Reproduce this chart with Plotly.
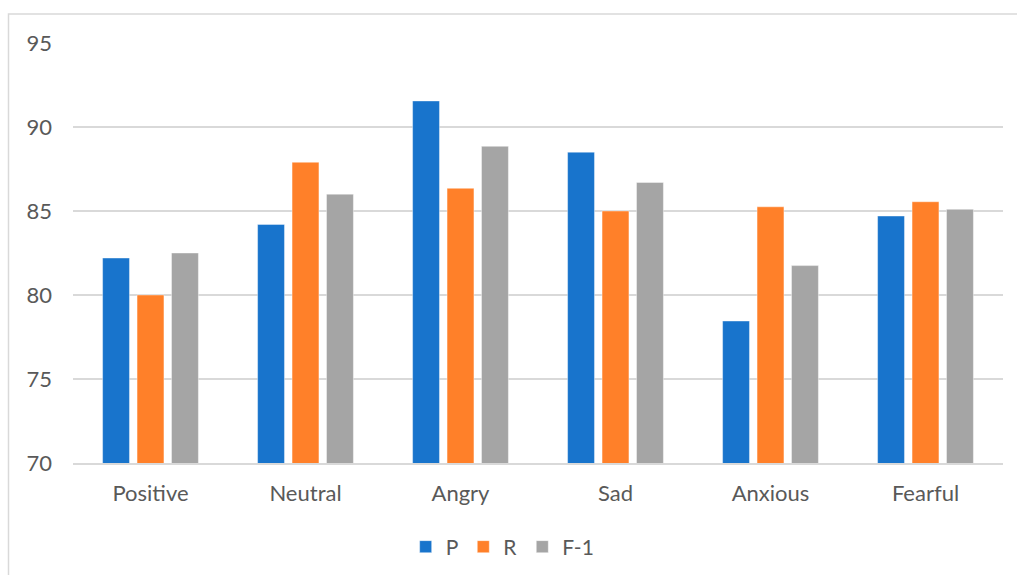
import plotly.graph_objects as go

categories = ["Positive", "Neutral", "Angry", "Sad", "Anxious", "Fearful"]
p_values = [82.2, 84.2, 91.55, 88.5, 78.45, 84.7]
r_values = [80.0, 87.9, 86.35, 85.0, 85.25, 85.55]
f1_values = [82.5, 86.0, 88.85, 86.7, 81.75, 85.1]
series_names = ["P", "R", "F-1"]
colors = ["#1874CC", "#FF8029", "#A5A5A5"]

FONT = "Lato, 'Open Sans', sans-serif"
TXT = "#595959"

fig = go.Figure()
for name, vals, col in zip(series_names, [p_values, r_values, f1_values], colors):
    fig.add_trace(go.Bar(
        x=categories, y=vals, name=name,
        marker=dict(color=col, line=dict(color="rgba(255,255,255,0.4)", width=1)),
    ))

fig.update_layout(
    width=1017, height=575,
    margin=dict(l=73, r=14, t=43, b=112, autoexpand=False),
    paper_bgcolor="white", plot_bgcolor="white",
    barmode="group", bargap=0.333, bargroupgap=0.22,
    font=dict(family=FONT, size=22, color=TXT),
    showlegend=True,
    legend=dict(orientation="h", x=0.462, xanchor="center", y=-0.2, yanchor="middle",
                font=dict(family=FONT, size=21, color=TXT), itemwidth=30,
                traceorder="normal"),
    xaxis=dict(showgrid=False, showline=True, linecolor="#D9D9D9", linewidth=1.5,
               ticks="", ticklabelstandoff=10, automargin=False,
               tickfont=dict(family=FONT, size=22, color=TXT)),
    yaxis=dict(range=[70, 95], dtick=5, tick0=70, showgrid=True, gridcolor="#D9D9D9",
               gridwidth=1.5, zeroline=False, showline=False, ticks="", automargin=False,
               ticklabelstandoff=20, tickfont=dict(family=FONT, size=22, color=TXT)),
    shapes=[dict(type="rect", xref="paper", yref="paper",
                 x0=(8.5 - 73) / 930, x1=1.03, y0=-0.3, y1=(463 - 14) / 420,
                 line=dict(color="#D9D9D9", width=1.5), fillcolor="rgba(0,0,0,0)", layer="below")],
)

fig.write_html("out.html")
